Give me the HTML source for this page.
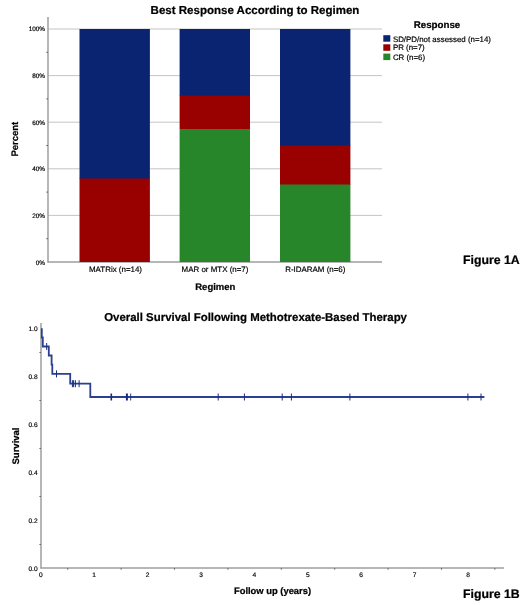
<!DOCTYPE html>
<html><head><meta charset="utf-8">
<style>
html,body{margin:0;padding:0;background:#fff;}
svg{display:block;}
text{font-family:"Liberation Sans",Arial,sans-serif;fill:#000;text-rendering:geometricPrecision;}
.b{font-weight:bold;stroke:#000;stroke-width:0.22;}
.s text{stroke:#000;stroke-width:0.18;}
</style></head>
<body>
<svg width="520" height="605" viewBox="0 0 520 605">
<rect width="520" height="605" fill="#fff"/>
<!-- Chart A -->
<text class="b" x="255" y="13.800" font-size="11.530" text-anchor="middle">Best Response According to Regimen</text>
<g stroke="#bdbdbd" stroke-width="0.9">
<line x1="48" x2="382" y1="29" y2="29"/>
<line x1="48" x2="382" y1="75.600" y2="75.600"/>
<line x1="48" x2="382" y1="122.200" y2="122.200"/>
<line x1="48" x2="382" y1="168.800" y2="168.800"/>
<line x1="48" x2="382" y1="215.400" y2="215.400"/>
</g>
<g stroke="#9e9e9e" stroke-width="1.5">
<line x1="48" x2="48" y1="17" y2="262.500"/>
<line x1="47.500" x2="382" y1="262" y2="262"/>
</g>
<g stroke="#555" stroke-width="0.8">
<line x1="46.200" x2="48" y1="52.300" y2="52.300"/>
<line x1="46.200" x2="48" y1="98.900" y2="98.900"/>
<line x1="46.200" x2="48" y1="145.500" y2="145.500"/>
<line x1="46.200" x2="48" y1="192.100" y2="192.100"/>
<line x1="46.200" x2="48" y1="238.700" y2="238.700"/>
</g>
<!-- bars -->
<rect x="79.500" y="29" width="70.400" height="150" fill="#0b2471"/>
<rect x="79.500" y="178.500" width="70.400" height="83.500" fill="#990000"/>
<rect x="179.600" y="29" width="70.400" height="67" fill="#0b2471"/>
<rect x="179.600" y="95.500" width="70.400" height="33.500" fill="#990000"/>
<rect x="179.600" y="129" width="70.400" height="133" fill="#27862a"/>
<rect x="280" y="29" width="70.400" height="117" fill="#0b2471"/>
<rect x="280" y="145.500" width="70.400" height="39.500" fill="#990000"/>
<rect x="280" y="184.500" width="70.400" height="77.500" fill="#27862a"/>
<g class="s" font-size="6.400" text-anchor="end">
<text x="45" y="31.400">100%</text>
<text x="45" y="78.000">80%</text>
<text x="45" y="124.600">60%</text>
<text x="45" y="171.200">40%</text>
<text x="45" y="217.800">20%</text>
<text x="45" y="264.800">0%</text>
</g>
<g class="s" font-size="7.950" text-anchor="middle">
<text x="115.500" y="272.400">MATRix (n=14)</text>
<text x="215" y="272.400">MAR or MTX (n=7)</text>
<text x="315.300" y="272.400">R-IDARAM (n=6)</text>
</g>
<text class="b" x="215.300" y="290.300" font-size="9.500" text-anchor="middle">Regimen</text>
<text class="b" font-size="9.500" text-anchor="middle" stroke="#000" stroke-width="0.4" transform="translate(18.200,139.200) rotate(-90)">Percent</text>
<!-- legend -->
<text class="b" x="437" y="28" font-size="9.750" text-anchor="middle">Response</text>
<rect x="383.300" y="35.200" width="7" height="6.500" fill="#0b2471"/>
<rect x="383.300" y="44.300" width="7" height="6.500" fill="#990000"/>
<rect x="383.300" y="53.600" width="7" height="6.500" fill="#27862a"/>
<g class="s" font-size="7.900">
<text x="392.900" y="41.500">SD/PD/not assessed (n=14)</text>
<text x="392.900" y="49.700">PR (n=7)</text>
<text x="392.900" y="59.800">CR (n=6)</text>
</g>
<text class="b" x="463" y="263.700" font-size="12.300">Figure 1A</text>

<!-- Chart B -->
<text class="b" x="255.600" y="320.600" font-size="11.430" text-anchor="middle">Overall Survival Following Methotrexate-Based Therapy</text>
<g stroke="#9e9e9e" stroke-width="1.5">
<line x1="41" x2="41" y1="323" y2="568.500"/>
<line x1="40.500" x2="504" y1="568" y2="568"/>
</g>
<g stroke="#555" stroke-width="0.800">
<line x1="39.300" x2="41" y1="352.500" y2="352.500"/>
<line x1="39.300" x2="41" y1="400.500" y2="400.500"/>
<line x1="39.300" x2="41" y1="448.500" y2="448.500"/>
<line x1="39.300" x2="41" y1="496.500" y2="496.500"/>
<line x1="39.300" x2="41" y1="544.500" y2="544.500"/>
<line x1="67.700" x2="67.700" y1="568" y2="569.800"/>
<line x1="121.100" x2="121.100" y1="568" y2="569.800"/>
<line x1="174.500" x2="174.500" y1="568" y2="569.800"/>
<line x1="227.900" x2="227.900" y1="568" y2="569.800"/>
<line x1="281.300" x2="281.300" y1="568" y2="569.800"/>
<line x1="334.700" x2="334.700" y1="568" y2="569.800"/>
<line x1="388.100" x2="388.100" y1="568" y2="569.800"/>
<line x1="441.500" x2="441.500" y1="568" y2="569.800"/>
<line x1="494.900" x2="494.900" y1="568" y2="569.800"/>
</g>
<g class="s" font-size="6.600" text-anchor="end">
<text x="37.600" y="330.800">1.0</text>
<text x="37.600" y="378.800">0.8</text>
<text x="37.600" y="426.800">0.6</text>
<text x="37.600" y="474.800">0.4</text>
<text x="37.600" y="522.800">0.2</text>
<text x="37.600" y="570.800">0.0</text>
</g>
<g class="s" font-size="6.600" text-anchor="middle">
<text x="40.800" y="576.800">0</text>
<text x="94.200" y="576.800">1</text>
<text x="147.600" y="576.800">2</text>
<text x="201" y="576.800">3</text>
<text x="254.400" y="576.800">4</text>
<text x="307.800" y="576.800">5</text>
<text x="361.200" y="576.800">6</text>
<text x="414.600" y="576.800">7</text>
<text x="468" y="576.800">8</text>
</g>
<text class="b" x="272.500" y="593.600" font-size="9.400" text-anchor="middle">Follow up (years)</text>
<text class="b" font-size="9.500" text-anchor="middle" stroke="#000" stroke-width="0.4" transform="translate(18.800,446) rotate(-90)">Survival</text>
<text class="b" x="463" y="597.500" font-size="12.300">Figure 1B</text>
<!-- KM curve -->
<path d="M41.800 328.300 V337.500 H42.800 V346.500 H48.800 V355.500 H51.600 V364.600 H52.300 V373.900 H70.200 V383.700 H90.300 V397 H484.400" fill="none" stroke="#2b4091" stroke-width="1.800"/>
<g stroke="#182c80" stroke-width="1">
<line x1="46.700" x2="46.700" y1="343" y2="350"/>
<line x1="56.500" x2="56.500" y1="370.400" y2="377.400"/>
<line x1="72.400" x2="72.400" y1="380.200" y2="387.200"/>
<line x1="73.600" x2="73.600" y1="380.200" y2="387.200"/>
<line x1="75.400" x2="75.400" y1="380.200" y2="387.200"/>
<line x1="79.100" x2="79.100" y1="380.200" y2="387.200"/>
<line x1="111.300" x2="111.300" y1="393.500" y2="400.500" stroke-width="1.6"/>
<line x1="126.900" x2="126.900" y1="393.500" y2="400.500" stroke-width="2"/>
<line x1="130.700" x2="130.700" y1="393.500" y2="400.500" stroke-width="0.9"/>
<line x1="218.200" x2="218.200" y1="393.500" y2="400.500"/>
<line x1="244.400" x2="244.400" y1="393.500" y2="400.500"/>
<line x1="282.200" x2="282.200" y1="393.500" y2="400.500"/>
<line x1="291.400" x2="291.400" y1="393.500" y2="400.500"/>
<line x1="349.900" x2="349.900" y1="393.500" y2="400.500"/>
<line x1="467.900" x2="467.900" y1="393.500" y2="400.500"/>
<line x1="481" x2="481" y1="393.500" y2="400.500"/>
</g>
</svg>
</body></html>
